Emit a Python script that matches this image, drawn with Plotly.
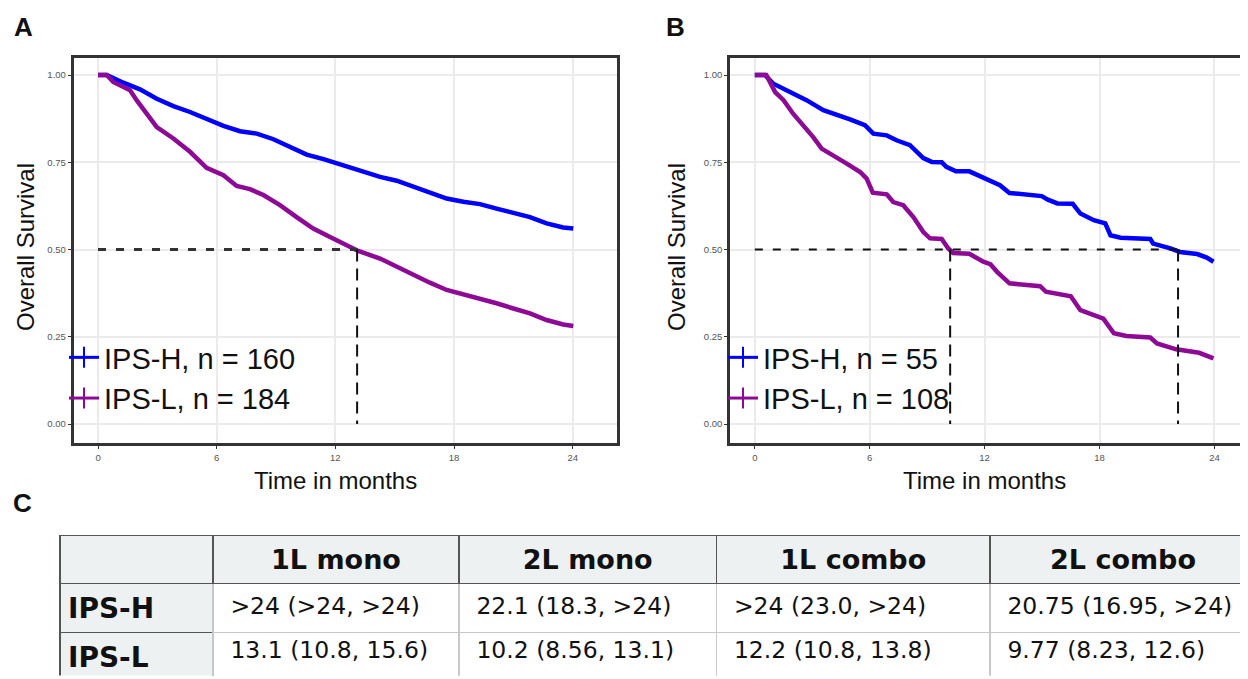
import plotly.graph_objects as go

W, H = 1248, 679
OFF = 8  # the page body has an 8px margin; positions below are given in window pixels

# ---------------- data ----------------
months_ticks = [0, 6, 12, 18, 24]
surv_ticks = [0.0, 0.25, 0.5, 0.75, 1.0]

# Panel A (1L mono)
a_h_t = [0, 0.44, 1.28, 2.12, 2.97, 3.81, 4.65, 5.49, 6.34, 7.18, 8.03, 8.87, 9.71, 10.55, 11.4, 12.15,
         12.57, 13.41, 14.26, 15.1, 15.94, 16.78, 17.63, 18.47, 19.31, 20.15, 21.0, 21.84, 22.68, 23.52, 24.03]
a_h_s = [1.0, 1.0, 0.978, 0.959, 0.932, 0.911, 0.894, 0.873, 0.854, 0.839, 0.832, 0.816, 0.794, 0.772, 0.759, 0.746,
         0.737, 0.722, 0.708, 0.697, 0.679, 0.662, 0.646, 0.637, 0.630, 0.617, 0.605, 0.593, 0.575, 0.563, 0.560]
a_l_t = [0, 0.44, 0.77, 1.28, 1.62, 1.95, 2.46, 2.97, 3.81, 4.65, 5.49, 6.34, 7.01, 7.68, 8.36, 9.2, 10.04,
         10.88, 11.73, 12.57, 13.16, 14.26, 15.1, 15.94, 16.78, 17.63, 18.47, 19.31, 20.15, 21.0, 21.84, 22.68,
         23.52, 24.03]
a_l_s = [1.0, 1.0, 0.98, 0.966, 0.956, 0.928, 0.889, 0.851, 0.818, 0.780, 0.734, 0.713, 0.682, 0.673, 0.656,
         0.627, 0.593, 0.560, 0.536, 0.512, 0.496, 0.474, 0.450, 0.427, 0.405, 0.384, 0.372, 0.360, 0.346, 0.331,
         0.317, 0.298, 0.285, 0.281]

# Panel B (2L mono)
b_h_t = [0, 0.53, 0.97, 1.84, 2.7, 3.58, 4.27, 4.97, 5.75, 6.19, 6.89, 7.4, 8.1, 8.8, 9.24, 9.76, 10.0, 10.5,
         11.2, 11.93, 12.45, 12.8, 13.3, 14.2, 14.98, 15.3, 15.8, 16.6, 17.0, 17.7, 18.3, 18.57, 19.1, 20.65,
         20.8, 21.7, 22.2, 23.1, 23.6, 23.95]
b_h_s = [1.0, 1.0, 0.975, 0.951, 0.928, 0.899, 0.887, 0.873, 0.856, 0.832, 0.827, 0.813, 0.799, 0.762, 0.751,
         0.75, 0.737, 0.724, 0.724, 0.705, 0.694, 0.684, 0.662, 0.658, 0.653, 0.643, 0.632, 0.631, 0.603, 0.584,
         0.575, 0.541, 0.534, 0.530, 0.517, 0.503, 0.493, 0.487, 0.477, 0.465]
b_l_t = [0, 0.6, 1.06, 1.5, 2.0, 2.54, 3.05, 3.49, 4.1, 4.8, 5.5, 5.84, 6.16, 6.89, 7.23, 7.75, 8.28, 8.8, 9.15,
         9.76, 10.1, 10.36, 11.2, 11.93, 12.3, 12.65, 13.3, 14.9, 15.2, 16.5, 17.0, 18.2, 18.75, 19.4, 20.65,
         21.0, 22.0, 23.2, 23.95]
b_l_s = [1.0, 1.0, 0.951, 0.928, 0.889, 0.856, 0.822, 0.789, 0.770, 0.746, 0.722, 0.703, 0.663, 0.658, 0.636,
         0.627, 0.593, 0.55, 0.532, 0.53, 0.503, 0.49, 0.488, 0.465, 0.458, 0.436, 0.403, 0.395, 0.379, 0.366,
         0.326, 0.302, 0.26, 0.252, 0.248, 0.231, 0.214, 0.204, 0.188]

a_labels = ["IPS-H, n = 160", "IPS-L, n = 184"]
b_labels = ["IPS-H, n = 55", "IPS-L, n = 108"]
a_medians = [13.1]          # IPS-L median (IPS-H not reached)
b_medians = [10.2, 22.1]    # IPS-L, IPS-H medians

table_header = ["", "1L mono", "2L mono", "1L combo", "2L combo"]
table_rows = ["IPS-H", "IPS-L"]
col_1l_mono = [">24 (>24, >24)", "13.1 (10.8, 15.6)"]
col_2l_mono = ["22.1 (18.3, >24)", "10.2 (8.56, 13.1)"]
col_1l_combo = [">24 (23.0, >24)", "12.2 (10.8, 13.8)"]
col_2l_combo = ["20.75 (16.95, >24)", "9.77 (8.23, 12.6)"]

# ---------------- style ----------------
BLUE = "#0000FF"
PURPLE = "#8E0A96"
FONT = "Liberation Sans, Arial, sans-serif"
TFONT = "DejaVu Sans, Liberation Sans, sans-serif"

fig = go.Figure()


def px_x(p):
    return (p - OFF) / W


def px_y(p):
    return 1 - (p - OFF) / H


def add_panel(xa, ya, h_t, h_s, l_t, l_s, labels, legend_name):
    fig.add_trace(go.Scatter(x=h_t, y=h_s, mode="lines", line=dict(color=BLUE, width=4.5),
                             xaxis=xa, yaxis=ya, showlegend=False, hoverinfo="skip"))
    fig.add_trace(go.Scatter(x=l_t, y=l_s, mode="lines", line=dict(color=PURPLE, width=4.5),
                             xaxis=xa, yaxis=ya, showlegend=False, hoverinfo="skip"))
    for lab, col in zip(labels, [BLUE, PURPLE]):
        fig.add_trace(go.Scatter(x=[None], y=[None], mode="lines+markers", name=lab,
                                 line=dict(color=col, width=3),
                                 marker=dict(symbol="line-ns-open", size=15, color=col,
                                             line=dict(color=col, width=2)),
                                 xaxis=xa, yaxis=ya, legend=legend_name, showlegend=True))


add_panel("x", "y", a_h_t, a_h_s, a_l_t, a_l_s, a_labels, "legend")
add_panel("x2", "y2", b_h_t, b_h_s, b_l_t, b_l_s, b_labels, "legend2")

# median reference lines
for xa, ya, meds, hw, hcol in [("x", "y", a_medians, 3, "#333333"), ("x2", "y2", b_medians, 2, "#111111")]:
    fig.add_trace(go.Scatter(x=[0, max(meds)], y=[0.5, 0.5], mode="lines",
                             line=dict(color=hcol, width=hw, dash="8px,10px"),
                             xaxis=xa, yaxis=ya, showlegend=False, hoverinfo="skip"))
    for m in meds:
        fig.add_trace(go.Scatter(x=[m, m], y=[0.5, 0], mode="lines",
                                 line=dict(color="#111111", width=2, dash="12px,7px"),
                                 xaxis=xa, yaxis=ya, showlegend=False, hoverinfo="skip"))

# table (its lower edge runs off the bottom of the window, as in the reference)
fig.add_trace(go.Table(
    domain=dict(x=[px_x(60), 1.0], y=[px_y(676), px_y(535.5)]),
    columnwidth=[153, 246, 257.5, 273.5, 266],
    header=dict(values=["<b>%s</b>" % h for h in table_header],
                fill_color="#eef1f1", align="center",
                font=dict(family=TFONT, size=27, color="#111111"),
                line=dict(color="#555555", width=1.5), height=48),
    cells=dict(values=[["<b>%s</b>" % r for r in table_rows], col_1l_mono, col_2l_mono,
                       col_1l_combo, col_2l_combo],
               fill_color=["#eef1f1", "white", "white", "white", "white"],
               align="left",
               prefix=["", "\u2009", "\u2009", "\u2009", "\u2009"],
               font=dict(family=TFONT, size=[28, 23.5, 23.5, 23.5, 23.5], color="#111111"),
               line=dict(color=["#555555", "#c8c8c8", "#c8c8c8", "#c8c8c8", "#c8c8c8"], width=1.5),
               height=49),
))

axis_common = dict(showgrid=True, gridcolor="#ebebeb", gridwidth=1.6, zeroline=False,
                   showline=True, linecolor="#333333", linewidth=2.5,
                   ticks="outside", ticklen=3, tickwidth=1.2, tickcolor="#333333",
                   tickfont=dict(family=FONT, size=9.5, color="#555555"))

fig.update_layout(
    width=W, height=H, margin=dict(l=0, r=0, t=0, b=0),
    paper_bgcolor="white", plot_bgcolor="white",
    xaxis=dict(domain=[px_x(73.5), px_x(616.6)], range=[-1.24, 26.22], tickvals=months_ticks,
               mirror=True, anchor="y", ticklabelstandoff=1, **axis_common),
    yaxis=dict(domain=[px_y(443), px_y(58)], range=[-0.0544, 1.0487], tickvals=surv_ticks,
               tickformat=".2f", mirror=True, anchor="x", **axis_common),
    xaxis2=dict(domain=[px_x(730), 1.0], range=[-1.295, 26.17], tickvals=months_ticks,
                mirror=True, anchor="y2", ticklabelstandoff=1, **axis_common),
    yaxis2=dict(domain=[px_y(443), px_y(58)], range=[-0.0544, 1.0487], tickvals=surv_ticks,
                tickformat=".2f", mirror=False, anchor="x2", **axis_common),
    legend=dict(x=px_x(64), y=px_y(332), xanchor="left", yanchor="top", bgcolor="rgba(0,0,0,0)",
                font=dict(family=FONT, size=29, color="#111111"), itemwidth=30, tracegroupgap=0),
    legend2=dict(x=px_x(723), y=px_y(332), xanchor="left", yanchor="top", bgcolor="rgba(0,0,0,0)",
                 font=dict(family=FONT, size=29, color="#111111"), itemwidth=30, tracegroupgap=0),
    showlegend=True,
)

ann = []
for txt, x, y in [("A", 23, 27), ("B", 675, 27), ("C", 22, 503)]:
    ann.append(dict(text="<b>%s</b>" % txt, x=px_x(x), y=px_y(y), xref="paper", yref="paper",
                    xanchor="center", yanchor="middle",
                    showarrow=False, font=dict(family=FONT, size=26, color="#111111")))
for xr, yr_x in [("x", 25), ("x2", 676)]:
    ann.append(dict(text="Time in months", x=12, y=px_y(480), xref=xr, yref="paper", showarrow=False,
                    xanchor="center", yanchor="middle",
                    font=dict(family=FONT, size=24, color="#111111")))
    ann.append(dict(text="Overall Survival", x=px_x(yr_x), y=px_y(247), xref="paper", yref="paper",
                    xanchor="center", yanchor="middle",
                    showarrow=False, textangle=-90, font=dict(family=FONT, size=24, color="#111111")))
fig.update_layout(annotations=ann)

fig.write_html("out.html")
